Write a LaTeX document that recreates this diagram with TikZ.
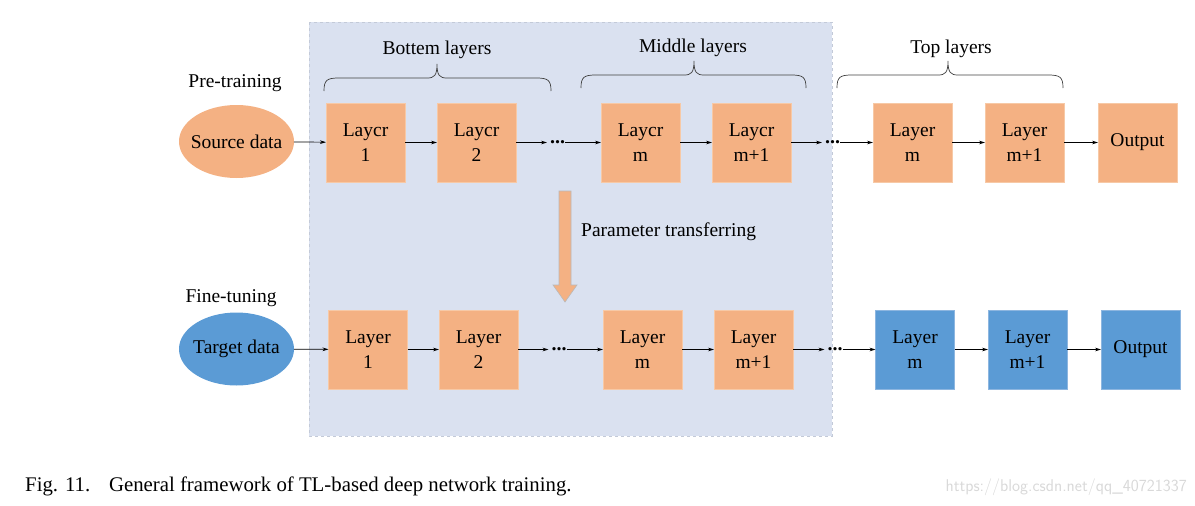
\documentclass[tikz,border=0pt]{standalone}
\usepackage{fontspec}
\setmainfont{Liberation Serif}
\usetikzlibrary{arrows.meta,shapes.geometric}
\definecolor{orng}{HTML}{F4B183}
\definecolor{blu}{HTML}{5B9BD5}
\definecolor{regionfill}{HTML}{DAE1F0}
\definecolor{regionedge}{HTML}{C3CAD8}
\definecolor{orngedge}{HTML}{F7C9A6}
\definecolor{bluedge}{HTML}{8DB6E0}
\begin{document}
\begin{tikzpicture}[x=1pt,y=-1pt,
  txt/.style={font=\fontsize{19.5}{25}\selectfont},
  obox/.style={txt,rectangle,fill=orng,draw=orngedge,line width=0.6pt,minimum width=79pt,minimum height=79pt,inner sep=0pt,outer sep=0pt,align=center},
  bbox/.style={obox,fill=blu,draw=bluedge},
  oell/.style={txt,ellipse,fill=orng,draw=none,minimum width=115pt,minimum height=73pt,inner sep=0pt,outer sep=0pt},
  bell/.style={oell,fill=blu},
  dotsnode/.style={font=\fontsize{20}{20}\selectfont\bfseries,inner sep=0pt,outer sep=0pt},
  conn/.style={draw=black,line width=0.7pt,-{Stealth[length=6pt,width=3.6pt]}},
  brace/.style={draw=black!75,line width=0.7pt},
  lab/.style={txt,inner sep=0pt}
]
\useasboundingbox (0,0) rectangle (1195,506);
% shaded region
\path[fill=regionfill,draw=regionedge,dashed,line width=1pt] (309,22) rectangle (832,436);

% labels
\node[lab] (pre) at (235,83) {Pre-training};
\node[lab] (fine) at (231,298) {Fine-tuning};
\node[lab] (hb) at (437,50) {Bottem layers};
\node[lab] (hm) at (693,48) {Middle layers};
\node[lab] (ht) at (951,49) {Top layers};

% braces
\draw[brace] (324,91) .. controls (324,80) and (327,78) .. (339,78) -- (427,78) .. controls (434,78) and (437,76) .. (437,64) .. controls (437,76) and (440,78) .. (447,78) -- (536,78) .. controls (548,78) and (551,80) .. (551,91);
\draw[brace] (581,88) .. controls (581,77) and (584,75) .. (596,75) -- (684,75) .. controls (691,75) and (694,73) .. (694,61) .. controls (694,73) and (697,75) .. (704,75) -- (791,75) .. controls (803,75) and (806,77) .. (806,88);
\draw[brace] (837,88) .. controls (837,77) and (840,75) .. (852,75) -- (938,75) .. controls (945,75) and (948,73) .. (948,61) .. controls (948,73) and (951,75) .. (958,75) -- (1048,75) .. controls (1060,75) and (1063,77) .. (1063,88);

% top row
\node[oell] (src) at (236.5,141.5) {\makebox[0pt]{Source data}};
\node[obox] (t1) at (365.5,142.5) {Laycr\\1};
\node[obox] (t2) at (476.5,142.5) {Laycr\\2};
\node[dotsnode] (td1) at (557.5,142.5) {...};
\node[obox] (tm) at (640.5,142.5) {Laycr\\m};
\node[obox] (tm1) at (751.5,142.5) {Laycr\\m+1};
\node[dotsnode] (td2) at (832.5,142.5) {...};
\node[obox] (tr1) at (912.5,142.5) {Layer\\m};
\node[obox] (tr2) at (1024.5,142.5) {Layer\\m+1};
\node[obox] (tout) at (1137.5,142.5) {Output};

\draw[conn] (src) -- (t1);
\draw[conn] (t1) -- (t2);
\draw[conn,shorten >=3pt] (t2) -- (td1);
\draw[conn] (td1) -- (tm);
\draw[conn] (tm) -- (tm1);
\draw[conn,shorten >=3pt] (tm1) -- (td2);
\draw[conn] (td2) -- (tr1);
\draw[conn] (tr1) -- (tr2);
\draw[conn] (tr2) -- (tout);

% parameter transferring arrow
\path[fill=orng,draw=gray!55,line width=0.6pt] (559,191) -- (571,191) -- (571,285) -- (577,285) -- (565,302) -- (553,285) -- (559,285) -- cycle;
\node[lab,anchor=west] (pt) at (581,232) {Parameter transferring};

% bottom row
\node[bell] (tgt) at (236.5,349) {\makebox[0pt]{Target data}};
\node[obox] (b1) at (368,349.5) {Layer\\1};
\node[obox] (b2) at (478.5,349.5) {Layer\\2};
\node[dotsnode] (bd1) at (559,349.5) {...};
\node[obox] (bm) at (642.5,349.5) {Layer\\m};
\node[obox] (bm1) at (753.5,349.5) {Layer\\m+1};
\node[dotsnode] (bd2) at (835,349.5) {...};
\node[bbox] (br1) at (915,349.5) {Layer\\m};
\node[bbox] (br2) at (1027.5,349.5) {Layer\\m+1};
\node[bbox] (bout) at (1140.5,349.5) {Output};

\draw[conn] (tgt) -- (b1);
\draw[conn] (b1) -- (b2);
\draw[conn,shorten >=3pt] (b2) -- (bd1);
\draw[conn] (bd1) -- (bm);
\draw[conn] (bm) -- (bm1);
\draw[conn,shorten >=3pt] (bm1) -- (bd2);
\draw[conn] (bd2) -- (br1);
\draw[conn] (br1) -- (br2);
\draw[conn] (br2) -- (bout);

% caption and watermark
\node[anchor=west,inner sep=0pt,font=\fontsize{20.8}{24}\selectfont] (cap) at (25,486) {Fig. 11.\hspace{0.9em}General framework of TL-based deep network training.};
\node[anchor=east,inner sep=0pt,text=gray!30,font=\sffamily\fontsize{17}{19}\selectfont] (wm) at (1187,487) {https://blog.csdn.net/qq\_40721337};
\end{tikzpicture}
\end{document}
